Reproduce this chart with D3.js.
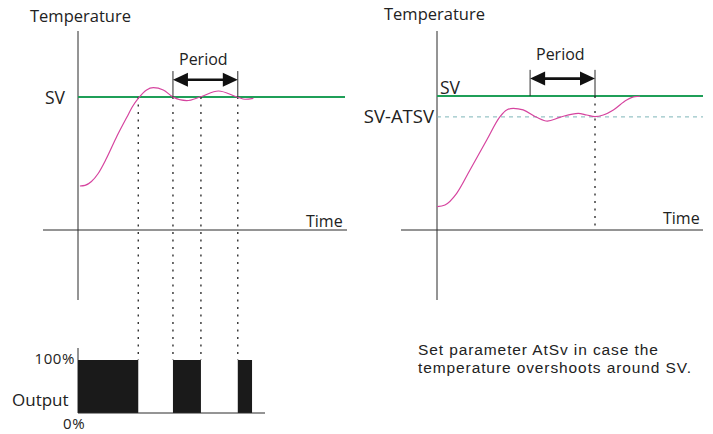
<!DOCTYPE html>
<html>
<head>
<meta charset="utf-8">
<script src="https://cdn.jsdelivr.net/npm/d3@7"></script>
<style>
	body { margin: 0; background: #fff; }
	svg { display: block; }
	.lbl { font-family: "Open Sans", sans-serif; fill: #222; }
	.cap { font-family: "Liberation Sans", Arial, sans-serif; fill: #222; font-size: 15.5px; letter-spacing: 0.9px; }
</style>
</head>
<body>
<div id="chart"></div>
<script>
// left panel: temperature response with on/off output
var leftTime = [0.7, 2.6, 5.0, 7.5, 10.5, 14.5, 18.2, 20.4, 22.4, 25.5, 28.0, 31.7, 35.3, 40.4, 45.7, 52.2, 59.4, 62.1, 65.2];
var leftTemp = [33.1, 33.6, 36.5, 42.5, 53.5, 70.7, 85.0, 93.2, 98.9, 105.3, 107, 105.3, 100, 97.2, 100.2, 104.5, 99.8, 98.3, 99.0];
var crossings = [22.4, 35.3, 45.7, 59.4];
var outputOn = [[0, 22.4], [35.3, 45.7], [59.4, 64.7]];
var leftPeriod = [35.3, 59.4];

// right panel: with AtSv offset
var rightTime = [0.1, 3.0, 7.4, 12.4, 18.7, 23.7, 26.2, 28.7, 32.4, 37.5, 41.5, 46.2, 53.1, 56.3, 59.4, 62.5, 66.3, 71.3, 74.4, 76.3];
var rightTemp = [17.4, 18.7, 27.4, 44.8, 67.2, 84.6, 89.6, 90.8, 89.6, 84.1, 81.3, 84.1, 87.1, 85.8, 84.6, 85.8, 89.6, 97.0, 99.5, 99.8];
var rightPeriod = [35, 59.4];
var sv = 100;
var atsv = 15.6;

var width = 713, height = 434;
var green = "#1f9f58", pink = "#d6449f", dark = "#2a2a2a";

var svg = d3.select("#chart").append("svg")
	.attr("width", width)
	.attr("height", height);

var xL = d3.scaleLinear().domain([0, 100]).range([78, 347]);
var yL = d3.scaleLinear().domain([0, 100]).range([230, 97]);
var yO = d3.scaleLinear().domain([0, 100]).range([413, 360]);
var xR = d3.scaleLinear().domain([0, 100]).range([437, 703]);
var yR = d3.scaleLinear().domain([0, 100]).range([230, 96]);

function line(x1, y1, x2, y2, color, w) {
	return svg.append("line")
		.attr("x1", x1).attr("y1", y1)
		.attr("x2", x2).attr("y2", y2)
		.attr("stroke", color)
		.attr("stroke-width", w);
}

function label(txt, x, y, size, anchor) {
	return svg.append("text")
		.attr("class", "lbl")
		.attr("x", x).attr("y", y)
		.attr("font-size", size)
		.attr("text-anchor", anchor || "start")
		.text(txt);
}

function arrow(x, y, period) {
	var x0 = x(period[0]), x1 = x(period[1]);
	var ya = y(113), yt = y(119.5);
	line(x0, yt, x0, y(sv), dark, 1);
	line(x1, yt, x1, y(sv), dark, 1);
	line(x0 + 10, ya, x1 - 10, ya, "#111", 2.6);
	svg.append("path")
		.attr("d", `M${x0},${ya} L${x0 + 15},${ya - 7} L${x0 + 15},${ya + 7} Z`)
		.attr("fill", "#111");
	svg.append("path")
		.attr("d", `M${x1},${ya} L${x1 - 15},${ya - 7} L${x1 - 15},${ya + 7} Z`)
		.attr("fill", "#111");
}

var curve = d3.line()
	.curve(d3.curveMonotoneX);

// ---- left panel ----
line(78, 31, 78, 300, dark, 1);
line(43, 230, 347, 230, dark, 1);
line(xL(0), yL(sv), 345, yL(sv), green, 2);

// dotted drop lines
crossings.forEach(t => {
	line(xL(t), yL(sv), xL(t), yO(100), "#222", 1.3)
		.attr("stroke-dasharray", "2,5.5");
});

svg.append("path")
	.attr("d", curve(leftTime.map((t, i) => [xL(t), yL(leftTemp[i])])))
	.attr("fill", "none")
	.attr("stroke", pink)
	.attr("stroke-width", 1.2);

arrow(xL, yL, leftPeriod);

label("Temperature", 30, 22, 16.5);
label("SV", 45, 104, 17.5);
label("Period", 179, 65, 16);
label("Time", 306, 227, 16);

// output bars
line(78, 348, 78, 413, dark, 1);
svg.selectAll("rect.out").data(outputOn)
	.enter().append("rect")
	.attr("class", "out")
	.attr("x", d => xL(d[0]))
	.attr("y", yO(100))
	.attr("width", d => xL(d[1]) - xL(d[0]))
	.attr("height", yO(0) - yO(100))
	.attr("fill", "#1a1a1a");
line(78, yO(0), 265, yO(0), dark, 1);

label("100%", 75, 364, 15, "end").attr("letter-spacing", "0.6px");
label("Output", 12, 406, 17);
label("0%", 63, 429, 15).attr("letter-spacing", "0.6px");

// ---- right panel ----
line(437, 31, 437, 300, dark, 1);
line(401, 230, 703, 230, dark, 1);
line(xR(0), yR(sv - atsv), 703, yR(sv - atsv), "#7db6b9", 1)
	.attr("stroke-dasharray", "4,4");
line(xR(0), yR(sv), 703, yR(sv), green, 2);

line(xR(rightPeriod[1]), yR(sv), xR(rightPeriod[1]), 230, "#222", 1.3)
	.attr("stroke-dasharray", "2,5.5");

svg.append("path")
	.attr("d", curve(rightTime.map((t, i) => [xR(t), yR(rightTemp[i])])))
	.attr("fill", "none")
	.attr("stroke", pink)
	.attr("stroke-width", 1.2);

arrow(xR, yR, rightPeriod);

label("Temperature", 384, 20, 16.5);
label("SV", 440, 94, 17.5);
label("SV-ATSV", 434, 123, 18.5, "end");
label("Period", 536, 60, 16);
label("Time", 663, 224, 16);

svg.append("text").attr("class", "cap")
	.attr("x", 418).attr("y", 355)
	.text("Set parameter AtSv in case the");
svg.append("text").attr("class", "cap")
	.attr("x", 418).attr("y", 373)
	.text("temperature overshoots around SV.");
</script>
</body>
</html>
